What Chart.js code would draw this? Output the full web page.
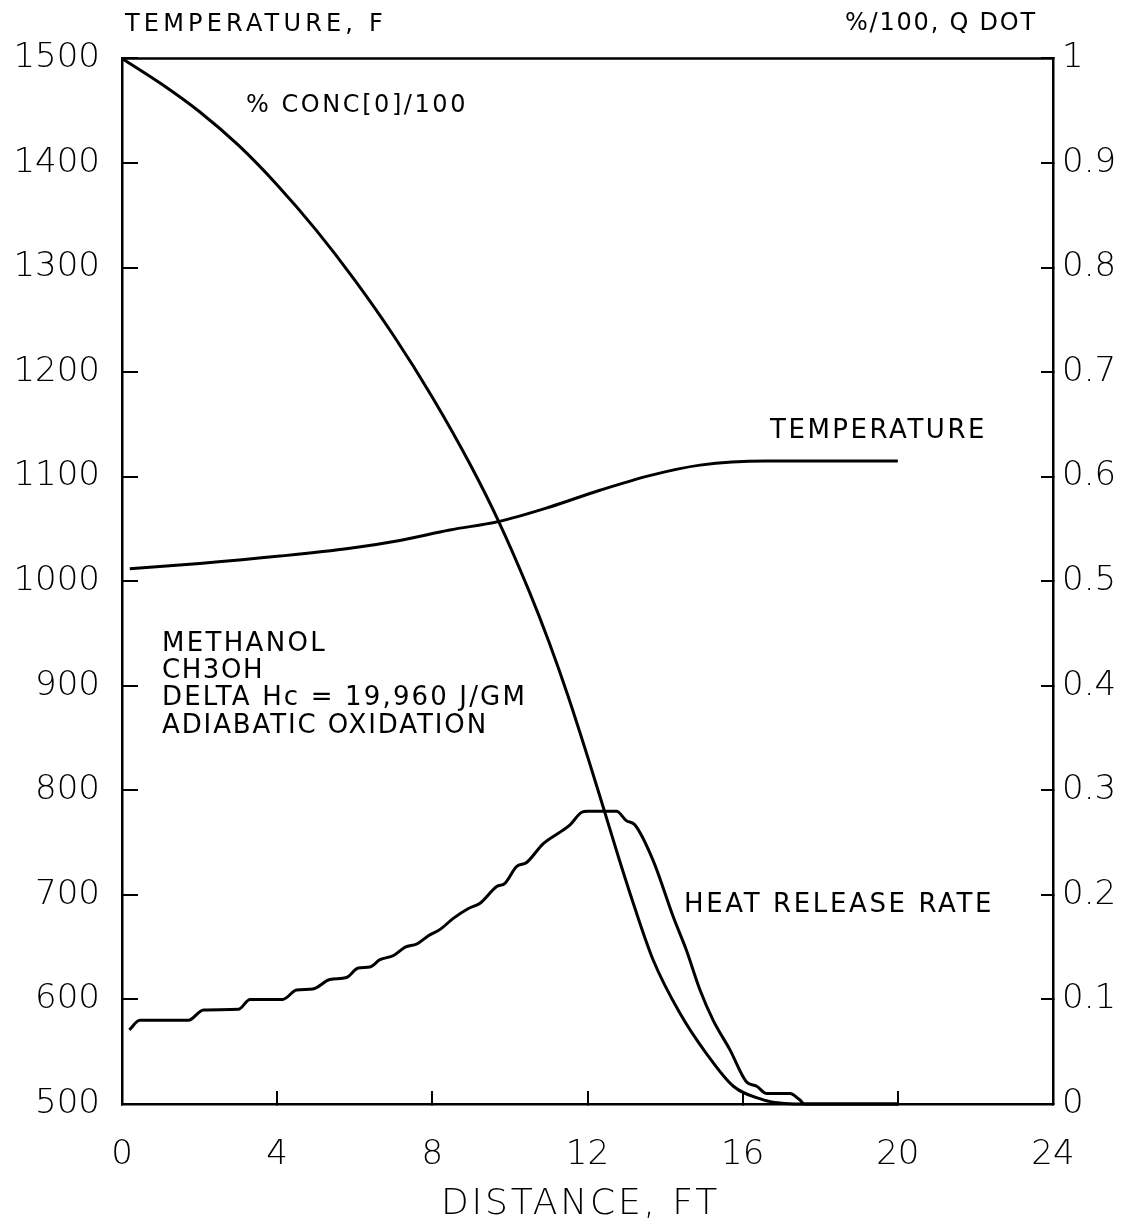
<!DOCTYPE html>
<html>
<head>
<meta charset="utf-8">
<script src="https://cdn.jsdelivr.net/npm/chart.js@4.4.1/dist/chart.umd.min.js"></script>
<style>
  html, body { margin: 0; padding: 0; background: #fff; }
  canvas { display: block; }
</style>
</head>
<body>
<canvas id="chart" width="1130" height="1228"></canvas>
<script>
// distance, ft and values
const tempX = [0.2, 2.0, 4.07, 5.88, 7.16, 8.45, 9.7, 11.03, 12.32, 13.6, 14.9, 16.6, 20];
const tempF = [1012, 1017, 1024, 1031.5, 1039, 1049, 1057, 1071, 1087, 1101, 1111, 1115, 1115];

const concX = [0, 1, 2, 3, 4, 5, 6, 7, 8, 9, 9.7, 10.5, 11, 11.5, 12, 12.4, 12.8, 13.18, 13.69, 14.38, 15.07, 15.76, 16.53, 16.96, 17.5, 20];
const concFrac = [1, 0.976, 0.949, 0.917, 0.879, 0.836, 0.788, 0.735, 0.676, 0.61, 0.558, 0.49, 0.4425, 0.39, 0.3325, 0.2845, 0.236, 0.192, 0.138, 0.087, 0.048, 0.017, 0.004, 0.001, 0, 0];

const hrrX = [0.19, 0.46, 1.71, 2.1, 3.0, 3.3, 4.14, 4.5, 4.92, 5.36, 5.79, 6.09, 6.39, 6.65, 7.0, 7.3, 7.6, 7.9, 8.2,
  8.54, 8.93, 9.23, 9.66, 9.87, 10.17, 10.43, 10.86, 11.33, 11.55, 11.85, 12.0, 12.75, 13.0, 13.22, 13.69, 14.21,
  14.55, 14.9, 15.24, 15.67, 16.1, 16.36, 16.62, 17.22, 17.47, 17.6, 20];
const hrrFrac = [0.071, 0.08, 0.08, 0.09, 0.0905, 0.1, 0.1, 0.109, 0.11, 0.119, 0.121, 0.13, 0.131, 0.138, 0.142, 0.15, 0.153, 0.161, 0.167,
  0.1775, 0.187, 0.192, 0.208, 0.211, 0.227, 0.231, 0.249, 0.261, 0.267, 0.279, 0.28, 0.28, 0.271, 0.267, 0.233, 0.179,
  0.147, 0.109, 0.08, 0.052, 0.021, 0.017, 0.01, 0.01, 0.004, 0, 0];

const xTicks = [0, 4, 8, 12, 16, 20, 24];
const leftTicks = [500, 600, 700, 800, 900, 1000, 1100, 1200, 1300, 1400, 1500];
const rightTicks = [0, 0.1, 0.2, 0.3, 0.4, 0.5, 0.6, 0.7, 0.8, 0.9, 1];
const rightTickLabels = ['0', '0.1', '0.2', '0.3', '0.4', '0.5', '0.6', '0.7', '0.8', '0.9', '1'];

const pts = (xs, ys) => xs.map((x, i) => ({ x: x, y: ys[i] }));

// text placed on the canvas: x, y (middle), size, width to fit
const notes = [
  { text: 'TEMPERATURE, F', x: 125, y: 25, size: 24, width: 262 },
  { text: '%/100, Q DOT', x: 845, y: 24, size: 24, width: 192 },
  { text: '% CONC[0]/100', x: 246, y: 106, size: 24, width: 222 },
  { text: 'TEMPERATURE', x: 770, y: 431, size: 26, width: 217 },
  { text: 'HEAT RELEASE RATE', x: 684, y: 905, size: 26, width: 310 },
  { text: 'METHANOL', x: 162, y: 644, size: 26, width: 165 },
  { text: 'CH3OH', x: 162, y: 671, size: 26, width: 102 },
  { text: 'DELTA Hc = 19,960 J/GM', x: 162, y: 698, size: 26, width: 365 },
  { text: 'ADIABATIC OXIDATION', x: 162, y: 726, size: 26, width: 326 },
  { text: 'DISTANCE, FT', x: 441, y: 1205, size: 36, width: 279, weight: '200' }
];

const notesPlugin = {
  id: 'notes',
  afterDraw(chart) {
    const ctx = chart.ctx;
    const a = chart.chartArea;
    ctx.save();
    // top frame line
    ctx.strokeStyle = '#000';
    ctx.lineWidth = 2.5;
    ctx.beginPath();
    ctx.moveTo(a.left, a.top);
    ctx.lineTo(a.right, a.top);
    ctx.stroke();

    ctx.fillStyle = '#000';
    ctx.textAlign = 'left';
    ctx.textBaseline = 'middle';
    notes.forEach(n => {
      ctx.font = (n.weight || 'normal') + ' ' + n.size + 'px "DejaVu Sans", sans-serif';
      ctx.letterSpacing = '0px';
      const w = ctx.measureText(n.text).width;
      const sp = Math.max(0, (n.width - w) / n.text.length);
      ctx.letterSpacing = sp.toFixed(2) + 'px';
      ctx.fillText(n.text, n.x, n.y);
    });
    ctx.restore();
  }
};

const tickFont = { family: '"DejaVu Sans", sans-serif', size: 34, weight: '200' };

new Chart(document.getElementById('chart'), {
  type: 'line',
  data: {
    datasets: [
      { label: 'TEMPERATURE', data: pts(tempX, tempF), yAxisID: 'y' },
      { label: '% CONC[0]/100', data: pts(concX, concFrac), yAxisID: 'y2' },
      { label: 'HEAT RELEASE RATE', data: pts(hrrX, hrrFrac), yAxisID: 'y2' }
    ]
  },
  options: {
    responsive: false,
    animation: false,
    layout: { padding: { top: 58, left: 0, right: 0, bottom: 0 } },
    elements: {
      line: { borderColor: '#000', borderWidth: 3, fill: false, cubicInterpolationMode: 'monotone' },
      point: { radius: 0, hoverRadius: 0 }
    },
    datasets: { line: { clip: false } },
    plugins: {
      legend: { display: false },
      tooltip: { enabled: false }
    },
    scales: {
      x: {
        type: 'linear',
        min: 0, max: 24,
        afterBuildTicks: s => { s.ticks = xTicks.map(v => ({ value: v })); },
        afterFit: s => { s.height = 124; },
        border: { display: true, color: '#000', width: 2.5 },
        grid: { display: true, drawOnChartArea: false, drawTicks: true, tickLength: -13, color: '#000', lineWidth: 2 },
        ticks: { color: '#000', font: tickFont, padding: 44, maxRotation: 0, callback: v => String(v) }
      },
      y: {
        type: 'linear',
        position: 'left',
        min: 500, max: 1500,
        afterBuildTicks: s => { s.ticks = leftTicks.map(v => ({ value: v })); },
        afterFit: s => { s.width = 122; },
        border: { display: true, color: '#000', width: 2.5 },
        grid: { display: true, drawOnChartArea: false, drawTicks: true, tickLength: -16, color: '#000', lineWidth: 2 },
        ticks: { color: '#000', font: tickFont, padding: 38, callback: v => String(v) }
      },
      y2: {
        type: 'linear',
        position: 'right',
        min: 0, max: 1,
        afterBuildTicks: s => { s.ticks = rightTicks.map(v => ({ value: v })); },
        afterFit: s => { s.width = 77; },
        border: { display: true, color: '#000', width: 2.5 },
        grid: { display: true, drawOnChartArea: false, drawTicks: true, tickLength: -12, color: '#000', lineWidth: 2 },
        ticks: {
          color: '#000', font: tickFont, padding: 21,
          callback: v => rightTickLabels[rightTicks.indexOf(+v.toFixed(1))]
        }
      }
    }
  },
  plugins: [notesPlugin]
});
</script>
</body>
</html>
